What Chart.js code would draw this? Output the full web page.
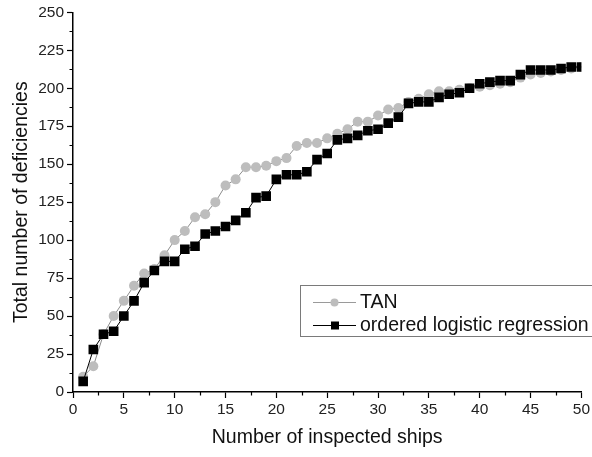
<!DOCTYPE html>
<html>
<head>
<meta charset="utf-8">
<script src="https://cdn.jsdelivr.net/npm/chart.js@4.4.1/dist/chart.umd.min.js"></script>
<style>
  html, body { margin: 0; padding: 0; background: #fff; }
  #wrap { width: 592px; height: 457px; }
</style>
</head>
<body>
<div id="wrap"><canvas id="chart" width="592" height="457"></canvas></div>
<script>
/* Ships inspected, 1..50 */
const ships = []
for (let i = 1; i <= 50; i++) ships.push(i)

/* Cumulative deficiencies found, TAN ranking */
const tanValues = [10, 17, 38, 50, 60, 70, 78, 81, 90, 100,
  106, 115, 117, 125, 136, 140, 148, 148, 149, 152,
  154, 162, 164, 164, 167, 170, 173, 178, 178, 182,
  186, 187, 191, 193, 196, 198, 198, 199, 200, 201,
  202, 203, 204, 207, 209, 210, 211, 212, 213, 214]

/* Cumulative deficiencies found, ordered logistic regression ranking */
const olrValues = [7, 28, 38, 40, 50, 60, 72, 80, 86, 86,
  94, 96, 104, 106, 109, 113, 118, 128, 129, 140,
  143, 143, 145, 153, 157, 166, 167, 169, 172, 173,
  177, 181, 190, 191, 191, 194, 196, 197, 200, 203,
  204, 205, 205, 209, 212, 212, 212, 213, 214, 214]

const seriesLabels = ["TAN", "ordered logistic regression"]

const FONT = "'Liberation Sans', Arial, sans-serif"

const toPoints = values => values.map((v, i) => ({ x: ships[i], y: v }))

/* Short minor ticks half way between the labelled ones. */
const minorTicks = {
  id: "minorTicks",
  afterDraw(chart) {
    const ctx = chart.ctx
    const xs = chart.scales.x
    const ys = chart.scales.y
    ctx.save()
    ctx.strokeStyle = "#000"
    ctx.lineWidth = 1.2
    ctx.beginPath()
    for (let v = 2.5; v < 50; v += 5) {
      const px = Math.round(xs.getPixelForValue(v)) + 0.5
      ctx.moveTo(px, xs.top)
      ctx.lineTo(px, xs.top + 3.5)
    }
    for (let v = 12.5; v < 250; v += 25) {
      const py = Math.round(ys.getPixelForValue(v)) + 0.5
      ctx.moveTo(ys.right, py)
      ctx.lineTo(ys.right - 3.5, py)
    }
    ctx.stroke()
    ctx.restore()
  }
}

/* Framed legend sitting inside the plot, lower right. */
const boxLegend = {
  id: "boxLegend",
  afterDraw(chart) {
    const ctx = chart.ctx
    const left = 300, top = 285, w = 310, h = 51
    ctx.save()
    ctx.fillStyle = "#fff"
    ctx.fillRect(left, top, w, h)
    ctx.strokeStyle = "#7a7a7a"
    ctx.lineWidth = 1
    ctx.strokeRect(left + 0.5, top + 0.5, w, h)

    const rows = [
      { y: 302, color: "#bdbdbd", line: "#9a9a9a", style: "circle" },
      { y: 325, color: "#000", line: "#000", style: "rect" }
    ]
    rows.forEach((r, i) => {
      ctx.strokeStyle = r.line
      ctx.lineWidth = 1
      ctx.beginPath()
      ctx.moveTo(313, r.y + 0.5)
      ctx.lineTo(356, r.y + 0.5)
      ctx.stroke()
      ctx.fillStyle = r.color
      if (r.style === "circle") {
        ctx.beginPath()
        ctx.arc(334.5, r.y + 0.5, 4, 0, Math.PI * 2)
        ctx.fill()
      } else {
        ctx.fillRect(331, r.y - 3.5, 8, 8)
      }
      ctx.fillStyle = "#111"
      ctx.font = "19.5px " + FONT
      ctx.textBaseline = "middle"
      ctx.textAlign = "left"
      ctx.fillText(seriesLabels[i], 360, r.y + 1)
    })
    ctx.restore()
  }
}

const axisGrid = {
  drawOnChartArea: false,
  drawTicks: true,
  tickLength: 6,
  tickColor: "#000",
  tickWidth: 1.2
}

new Chart(document.getElementById("chart"), {
  type: "line",
  data: {
    datasets: [{
      label: seriesLabels[0],
      data: toPoints(tanValues),
      borderColor: "#8c8c8c",
      borderWidth: 1,
      backgroundColor: "#bdbdbd",
      pointBackgroundColor: "#bdbdbd",
      pointBorderColor: "#bdbdbd",
      pointBorderWidth: 0,
      pointStyle: "circle",
      pointRadius: 5,
      order: 2
    }, {
      label: seriesLabels[1],
      data: toPoints(olrValues),
      borderColor: "#000",
      borderWidth: 1,
      backgroundColor: "#000",
      pointBackgroundColor: "#000",
      pointBorderColor: "#000",
      pointBorderWidth: 0,
      pointStyle: "rect",
      pointRadius: 6.8,
      order: 1
    }]
  },
  options: {
    responsive: false,
    animation: false,
    layout: { padding: { top: 8, right: 8, left: 0, bottom: 0 } },
    plugins: {
      legend: { display: false },
      tooltip: { enabled: false }
    },
    scales: {
      x: {
        type: "linear",
        min: 0,
        max: 50,
        border: { color: "#000", width: 1.5 },
        grid: axisGrid,
        ticks: {
          stepSize: 5,
          color: "#222",
          padding: 2,
          maxRotation: 0,
          font: { family: FONT, size: 15.5 }
        },
        title: {
          display: true,
          text: "Number of inspected ships",
          color: "#111",
          font: { family: FONT, size: 19.5 },
          padding: { top: 4, bottom: 8 }
        },
        afterFit: scale => { scale.height = 65 }
      },
      y: {
        type: "linear",
        min: 0,
        max: 250,
        border: { color: "#000", width: 1.5 },
        grid: axisGrid,
        ticks: {
          stepSize: 25,
          color: "#222",
          padding: 3,
          font: { family: FONT, size: 15.5 }
        },
        title: {
          display: true,
          text: "Total number of deficiencies",
          color: "#111",
          font: { family: FONT, size: 19.5 },
          padding: { top: 10, bottom: 4 }
        },
        afterFit: scale => { scale.width = 73 }
      }
    }
  },
  plugins: [minorTicks, boxLegend]
})
</script>
</body>
</html>
